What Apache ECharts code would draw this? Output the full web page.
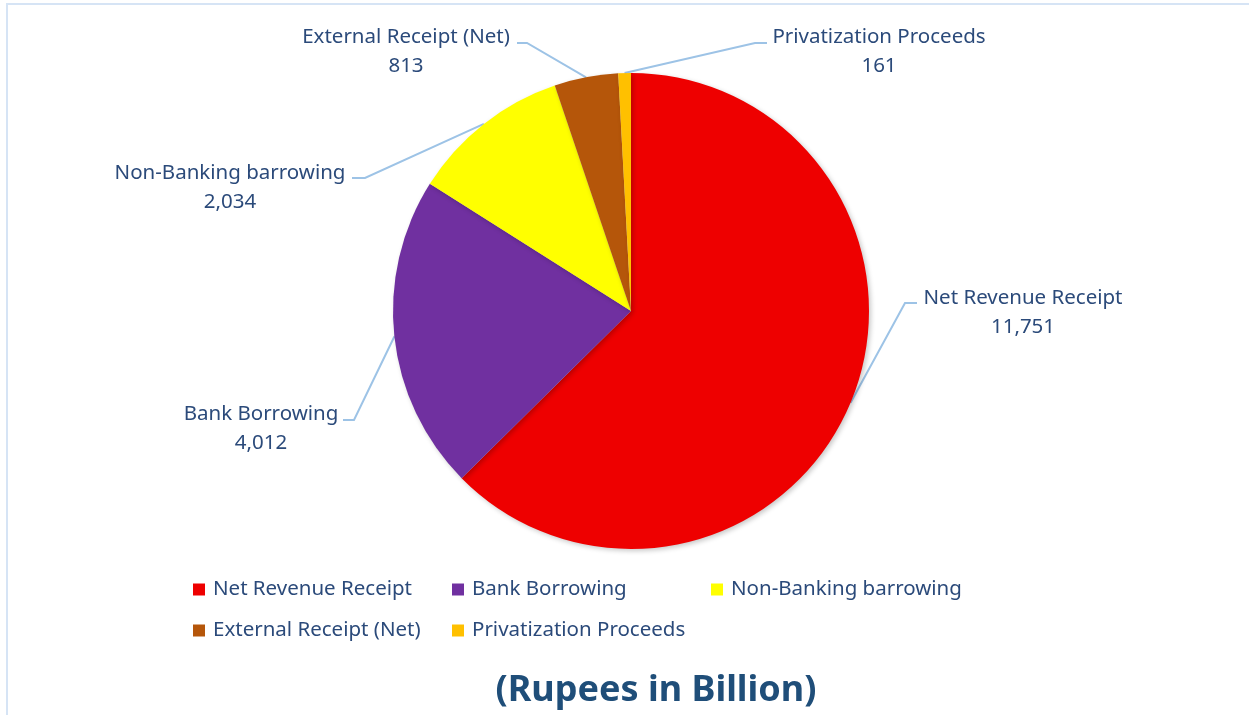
<!DOCTYPE html>
<html>
<head>
<meta charset="utf-8">
<title>Budget Financing</title>
<script src="https://cdn.jsdelivr.net/npm/echarts@6/dist/echarts.min.js"></script>
<style>
  html, body { margin: 0; padding: 0; background: #ffffff; }
  #chart { width: 1249px; height: 715px; }
</style>
</head>
<body>
<div id="chart"></div>
<script>
// Sources of financing (Rupees in Billion)
const categories = [
  'Net Revenue Receipt',
  'Bank Borrowing',
  'Non-Banking barrowing',
  'External Receipt (Net)',
  'Privatization Proceeds'
];
const values = [11751, 4012, 2034, 813, 161];
const colors = ['#EE0000', '#7030A0', '#FFFF00', '#B5560A', '#FFC000'];

const FONT = '"Noto Sans", "Open Sans", sans-serif';
const TEXT_COLOR = '#2B4A7A';
const LINE_COLOR = '#9DC3E6';

// label placement: block centre plus the elbow/end of each leader line
const labelSpots = [
  { x: 1023, y: 313, elbow: [905, 303], end: [917, 303] },
  { x: 261,  y: 429, elbow: [354, 420], end: [343, 420] },
  { x: 230,  y: 188, elbow: [365, 178], end: [352, 178] },
  { x: 406,  y: 52,  elbow: [527, 43],  end: [517, 43] },
  { x: 879,  y: 52,  elbow: [755, 43],  end: [767, 43] }
];

const chart = echarts.init(document.getElementById('chart'), null, { renderer: 'canvas' });

const option = {
  backgroundColor: '#ffffff',
  animation: false,
  title: {
    text: '(Rupees in Billion)',
    left: 656,
    top: 673,
    padding: 0,
    textAlign: 'center',
    textStyle: { fontFamily: FONT, fontSize: 36, fontWeight: 'bold', color: '#1F4E79' }
  },
  legend: {
    left: 193,
    top: 579,
    padding: 0,
    width: 800,
    itemWidth: 12,
    itemHeight: 12,
    itemGap: 20,
    icon: 'rect',
    data: categories,
    formatter: function (name) { return '{t|' + name + '}'; },
    textStyle: {
      rich: {
        t: { fontFamily: FONT, fontSize: 20.5, color: TEXT_COLOR, width: 219, height: 20, lineHeight: 20, padding: [0, 0, 0, 3] }
      }
    }
  },
  graphic: [
    {
      type: 'rect',
      silent: true,
      shape: { x: 7, y: 4, width: 1400, height: 900 },
      style: { fill: null, stroke: '#D6E4F5', lineWidth: 2 }
    }
  ],
  series: [
    {
      type: 'pie',
      center: [631, 311],
      radius: [0, 238],
      startAngle: 90,
      clockwise: true,
      data: categories.map(function (c, i) {
        return { name: c, value: values[i], itemStyle: { color: colors[i] } };
      }),
      itemStyle: {
        borderWidth: 0,
        shadowBlur: 5,
        shadowColor: 'rgba(0,0,0,0.22)',
        shadowOffsetX: 2,
        shadowOffsetY: 2
      },
      label: {
        show: true,
        position: 'outside',
        formatter: function (p) {
          return p.name + '\n' + p.value.toLocaleString('en-US');
        },
        fontFamily: FONT,
        fontSize: 20.5,
        lineHeight: 29,
        color: TEXT_COLOR,
        align: 'center'
      },
      labelLine: {
        show: true,
        length: 20,
        length2: 10,
        lineStyle: { color: LINE_COLOR, width: 2 }
      },
      labelLayout: function (params) {
        const s = labelSpots[params.dataIndex];
        const pts = params.labelLinePoints;
        const anchor = pts ? pts[0] : s.elbow;
        return {
          x: s.x,
          y: s.y,
          align: 'center',
          verticalAlign: 'middle',
          labelLinePoints: [anchor, s.elbow, s.end]
        };
      },
      emphasis: { disabled: true }
    }
  ]
};

chart.setOption(option);
</script>
</body>
</html>
